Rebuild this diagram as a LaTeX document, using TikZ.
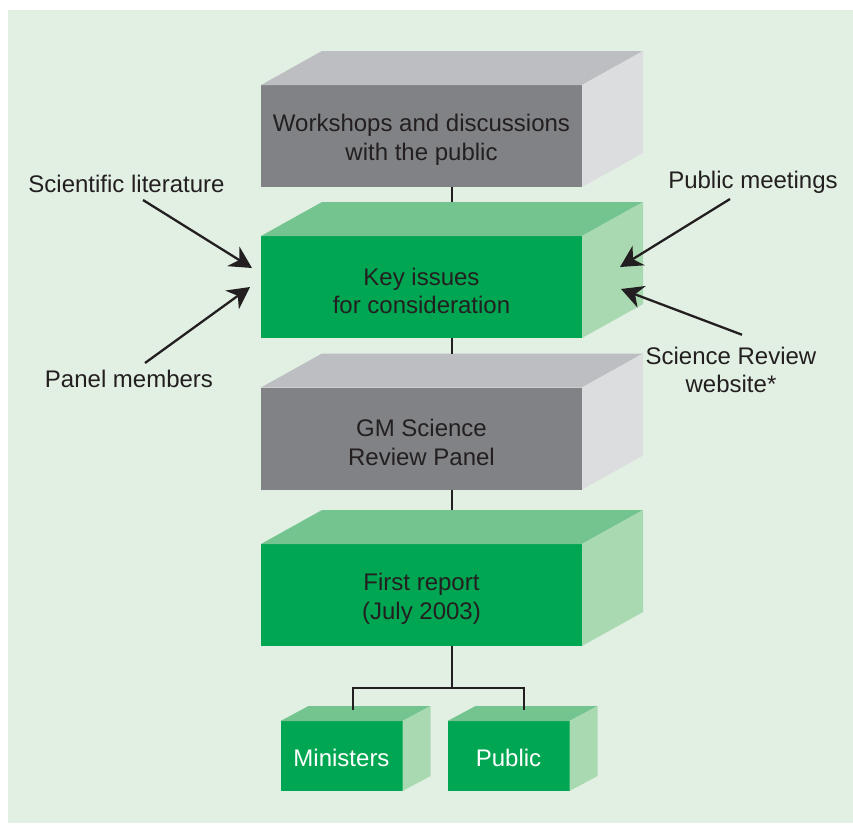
\documentclass[tikz,border=0pt]{standalone}
\usepackage{fontspec}
\setmainfont{Liberation Sans}
\usetikzlibrary{calc,arrows.meta}

\definecolor{panelbg}{HTML}{E2F0E3}
\definecolor{ink}{HTML}{231F20}
\definecolor{greenfront}{HTML}{00A651}
\definecolor{greentop}{HTML}{73C48F}
\definecolor{greenside}{HTML}{A9D9B1}
\definecolor{grayfront}{HTML}{808285}
\definecolor{graytop}{HTML}{BCBEC1}
\definecolor{grayside}{HTML}{DCDDDF}

% top and right faces of a solid block whose front face is node #1
\newcommand\solidbox[5]{%
  \fill[#4] (#1.north west) -- ++(#2,-#3) -- ($(#1.north east)+(#2,-#3)$) -- (#1.north east) -- cycle;
  \fill[#5] (#1.north east) -- ++(#2,-#3) -- ($(#1.south east)+(#2,-#3)$) -- (#1.south east) -- cycle;
}

\tikzset{
  txt/.style={font=\fontsize{24}{28.5}\selectfont, text=ink, align=center, inner sep=0pt},
  bigface/.style={rectangle, inner sep=0pt, outer sep=0pt, minimum width=321pt, minimum height=102pt},
  inside/.style={txt, yshift=-4pt},
  smallface/.style={rectangle, inner sep=0pt, outer sep=0pt, minimum width=122pt, minimum height=70pt, fill=greenfront},
  insidewhite/.style={txt, text=white, yshift=-2pt},
  link/.style={draw=ink, line width=2.3pt},
  feed/.style={draw=ink, line width=2.3pt, -{Stealth[length=22pt, width=23pt, inset=7pt]}},
}

\begin{document}
\begin{tikzpicture}[x=1pt, y=-1pt]
  \useasboundingbox (0,0) rectangle (853,823);
  \fill[panelbg] (8,10) rectangle (853,823);

  % main blocks
  \node[bigface, fill=grayfront, label={[inside]center:Workshops and discussions\\with the public}] (w) at (421.5,136) {};
  \solidbox{w}{61}{34}{graytop}{grayside}

  \node[bigface, fill=greenfront, label={[inside]center:Key issues\\for consideration}] (k) at (421.5,287) {};
  \solidbox{k}{61}{34}{greentop}{greenside}

  \node[bigface, fill=grayfront, label={[inside]center:GM Science\\Review Panel}] (g) at (421.5,438.5) {};
  \solidbox{g}{61}{34}{graytop}{grayside}

  \node[bigface, fill=greenfront, label={[inside]center:First report\\(July 2003)}] (r) at (421.5,595) {};
  \solidbox{r}{61}{34}{greentop}{greenside}

  % vertical links, each ending at the back edge of the next block's top
  \draw[link] ($(w.south)+(30.5,0)$) -- ($(k.north)+(30.5,-34)$);
  \draw[link] ($(k.south)+(30.5,0)$) -- ($(g.north)+(30.5,-34)$);
  \draw[link] ($(g.south)+(30.5,0)$) -- ($(r.north)+(30.5,-34)$);

  % recipients
  \node[smallface, label={[insidewhite]center:Ministers}] (m) at (341.5,756) {};
  \solidbox{m}{28}{15}{greentop}{greenside}
  \node[smallface, label={[insidewhite]center:Public}] (p) at (508.5,756) {};
  \solidbox{p}{28}{15}{greentop}{greenside}

  % fork from the report to the recipients
  \coordinate (fork) at ($(r.south)+(30.5,42)$);
  \coordinate (mt) at ($(m.north)+(11.5,-11)$);
  \coordinate (pt) at ($(p.north)+(15.5,-11)$);
  \draw[link] ($(r.south)+(30.5,0)$) -- (fork);
  \draw[link] (mt) |- (fork) -| (pt);

  % inputs
  \node[txt, anchor=base] (sci) at (126.5,192) {Scientific literature};
  \node[txt, anchor=base] (pan) at (129,387) {Panel members};
  \node[txt, anchor=base] (pub) at (753,188) {Public meetings};
  \node[txt] (web) at (731,370) {Science Review\\website*};

  \coordinate (kin1) at (252,268);
  \coordinate (kin2) at (250,287);
  \coordinate (kin3) at (620,267);
  \coordinate (kin4) at (621,289);

  \draw[feed] ($(sci.base)+(16.5,8)$) -- (kin1);
  \draw[feed] ($(pan.base)+(16,-24)$) -- (kin2);
  \draw[feed] ($(pub.base)+(-23,11)$) -- (kin3);
  \draw[feed] ($(web.north)+(11,-12)$) -- (kin4);
\end{tikzpicture}
\end{document}
